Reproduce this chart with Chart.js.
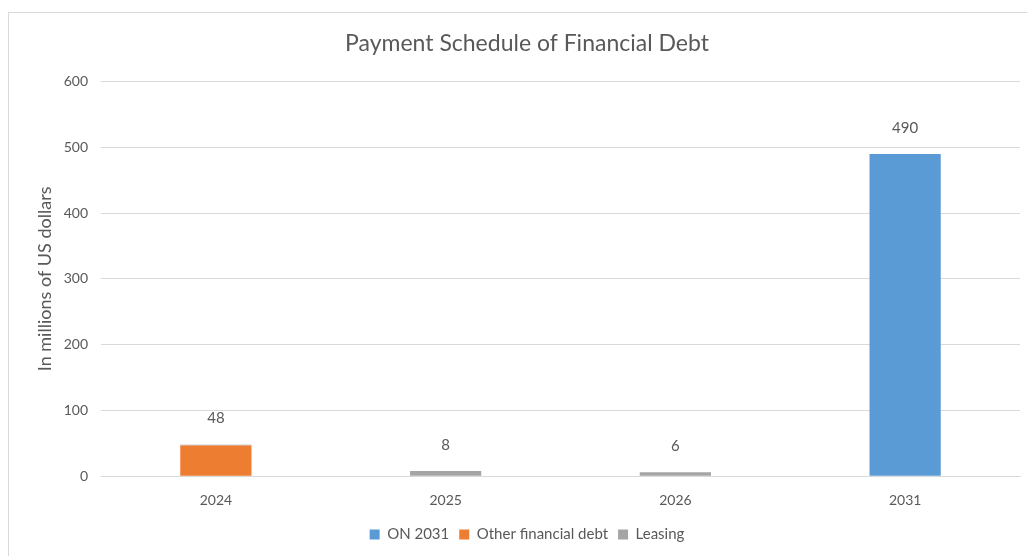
<!DOCTYPE html>
<html>
<head>
<meta charset="utf-8">
<script src="https://cdn.jsdelivr.net/npm/chart.js@4"></script>
<style>
    body { margin: 0; background: #fff; }
    #frame {
        position: absolute;
        left: 8px;
        top: 12px;
        width: 1040px;
        height: 560px;
        border: 1px solid #d9d9d9;
        box-sizing: border-box;
    }
    #wrap {
        position: absolute;
        left: 0;
        top: 0;
        width: 1027px;
        height: 556px;
    }
</style>
</head>
<body>
<div id="frame"></div>
<div id="wrap"><canvas id="debtChart"></canvas></div>
<script>
// Chart data
const years = ['2024', '2025', '2026', '2031'];
const on2031 = [0, 0, 0, 490];
const otherDebt = [46.5, 0, 0, 0];
const leasing = [1.5, 8, 6, 0];
const totalLabels = ['48', '8', '6', '490'];

const textColor = '#595959';
const fontFamily = 'Lato, "Open Sans", sans-serif';

// Draw totals above each stack
const totalsPlugin = {
    id: 'totals',
    afterDatasetsDraw(chart) {
        const ctx = chart.ctx;
        const yScale = chart.scales.y;
        const xScale = chart.scales.x;
        ctx.save();
        ctx.fillStyle = textColor;
        ctx.font = '15px ' + fontFamily;
        ctx.textAlign = 'center';
        ctx.textBaseline = 'middle';
        years.forEach((y, i) => {
            const total = on2031[i] + otherDebt[i] + leasing[i];
            const px = xScale.getPixelForValue(i);
            const py = yScale.getPixelForValue(total);
            ctx.fillText(totalLabels[i], px, py - 26);
        });
        ctx.restore();
    }
};

new Chart(document.getElementById('debtChart'), {
    type: 'bar',
    data: {
        labels: years,
        datasets: [
            { label: 'ON 2031', data: on2031, backgroundColor: '#5b9bd5' },
            { label: 'Other financial debt', data: otherDebt, backgroundColor: '#ed7d31' },
            { label: 'Leasing', data: leasing, backgroundColor: '#a5a5a5' }
        ]
    },
    options: {
        responsive: true,
        maintainAspectRatio: false,
        animation: false,
        datasets: {
            bar: { categoryPercentage: 0.62, barPercentage: 0.5 }
        },
        layout: { padding: { left: 34, right: 7, top: 18, bottom: 4 } },
        plugins: {
            title: {
                display: true,
                text: 'Payment Schedule of Financial Debt',
                color: textColor,
                font: { family: fontFamily, size: 23, weight: 'normal' },
                padding: { top: 12, bottom: 24 }
            },
            legend: {
                position: 'bottom',
                labels: {
                    color: textColor,
                    font: { family: fontFamily, size: 15 },
                    boxWidth: 10,
                    boxHeight: 10,
                    padding: 10
                }
            },
            tooltip: { enabled: false }
        },
        scales: {
            x: {
                stacked: true,
                grid: { display: false },
                border: { color: '#d9d9d9' },
                ticks: { color: textColor, font: { family: fontFamily, size: 14 }, padding: 8 }
            },
            y: {
                stacked: true,
                min: 0,
                max: 600,
                afterFit: s => { s.width = 67; },
                ticks: { stepSize: 100, color: textColor, font: { family: fontFamily, size: 14 }, padding: 13 },
                grid: { color: '#d9d9d9', drawTicks: false },
                border: { display: false },
                title: {
                    display: true,
                    text: 'In millions of US dollars',
                    color: textColor,
                    font: { family: fontFamily, size: 18 },
                    padding: 0
                }
            }
        }
    },
    plugins: [totalsPlugin]
});
</script>
</body>
</html>
